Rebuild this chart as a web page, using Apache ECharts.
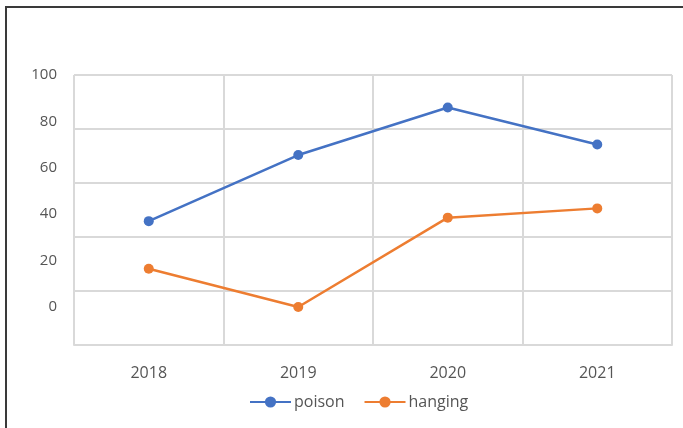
<!DOCTYPE html>
<html>
<head>
<meta charset="utf-8">
<script src="https://cdn.jsdelivr.net/npm/echarts@6/dist/echarts.min.js"></script>
<style>
html,body{margin:0;padding:0;background:#fff;}
#c{width:683px;height:428px;}
</style>
</head>
<body>
<div id="c"></div>
<script>
var categories = ['2018', '2019', '2020', '2021'];
var poison = [37, 65.5, 86, 70];
var hanging = [16.5, 0, 38.5, 42.5];
var yTickLabels = [0, 20, 40, 60, 80, 100];

var chart = echarts.init(document.getElementById('c'));
var txt = '#555555';
var font = '"Open Sans", sans-serif';
chart.setOption({
  animation: false,
  backgroundColor: '#fff',
  graphic: [{
    type: 'rect', silent: true, z: 100,
    shape: {x: 6, y: 7, width: 720, height: 480},
    style: {fill: 'none', stroke: '#3a3a3a', lineWidth: 2}
  }],
  grid: {left: 74, right: 11, top: 75, bottom: 83},
  legend: {
    left: 244, top: 389,
    itemWidth: 41, itemHeight: 14, itemGap: 19,
    textStyle: {color: txt, fontFamily: font, fontSize: 16, padding: [0, 0, 4, -2]},
    data: ['poison', 'hanging']
  },
  xAxis: {
    type: 'category', data: categories, boundaryGap: true,
    axisLine: {show: true, onZero: false, lineStyle: {color: '#d9d9d9', width: 2}},
    axisTick: {show: false},
    splitLine: {show: true, lineStyle: {color: '#d9d9d9', width: 2}},
    axisLabel: {color: txt, fontFamily: font, fontSize: 16, margin: 20}
  },
  yAxis: [{
    type: 'value', min: -16.4, max: 100,
    axisLine: {show: false}, axisTick: {show: false},
    splitLine: {show: false},
    axisLabel: {color: txt, fontFamily: font, fontSize: 15, margin: 17, customValues: yTickLabels}
  }, {
    type: 'value', min: 0, max: 5, interval: 1, position: 'left',
    axisLine: {show: false}, axisTick: {show: false},
    axisLabel: {show: false},
    splitLine: {show: true, lineStyle: {color: '#d9d9d9', width: 2}}
  }],
  series: [{
    name: 'poison', type: 'line', yAxisIndex: 0, data: poison,
    symbol: 'circle', symbolSize: 10,
    lineStyle: {color: '#4472C4', width: 2.5},
    itemStyle: {color: '#4472C4'}
  }, {
    name: 'hanging', type: 'line', yAxisIndex: 0, data: hanging,
    symbol: 'circle', symbolSize: 10,
    lineStyle: {color: '#ED7D31', width: 2.5},
    itemStyle: {color: '#ED7D31'}
  }]
});
</script>
</body>
</html>
